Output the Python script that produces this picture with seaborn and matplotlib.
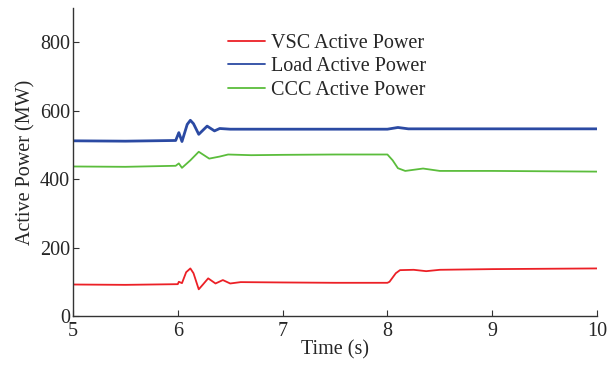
import matplotlib
matplotlib.use("Agg")
import matplotlib.pyplot as plt
import seaborn as sns
import pandas as pd

# Time (s) and active power (MW)
vsc_t = [5.0, 5.5, 6.0, 6.01, 6.04, 6.08, 6.12, 6.15, 6.20, 6.24, 6.29, 6.36, 6.43, 6.50, 6.6, 7.0, 7.5, 8.0, 8.02, 8.08, 8.12, 8.25, 8.37, 8.5, 9.0, 9.5, 10.0]
vsc_p = [92, 91, 93, 100, 96, 128, 139, 125, 78, 92, 110, 95, 105, 95, 99, 98, 97, 97, 100, 125, 134, 135, 131, 135, 137, 138, 139]

load_t = [5.0, 5.5, 5.98, 6.01, 6.04, 6.09, 6.12, 6.15, 6.20, 6.28, 6.35, 6.40, 6.5, 7.0, 7.5, 8.0, 8.1, 8.2, 9.0, 9.5, 10.0]
load_p = [512, 511, 513, 536, 510, 560, 572, 562, 531, 555, 541, 548, 546, 546, 546, 546, 551, 547, 547, 547, 547]

ccc_t = [5.0, 5.5, 5.98, 6.01, 6.04, 6.12, 6.20, 6.30, 6.40, 6.48, 6.7, 7.0, 7.5, 8.0, 8.05, 8.10, 8.17, 8.34, 8.5, 9.0, 9.5, 10.0]
ccc_p = [437, 436, 439, 446, 433, 455, 480, 460, 466, 472, 470, 471, 472, 472, 455, 432, 424, 431, 424, 424, 423, 422]

series_names = ["VSC Active Power", "Load Active Power", "CCC Active Power"]
x_ticks = [5, 6, 7, 8, 9, 10]
y_ticks = [0, 200, 400, 600, 800]

frames = []
for name, t, p in zip(series_names, [vsc_t, load_t, ccc_t], [vsc_p, load_p, ccc_p]):
    frames.append(pd.DataFrame({"Time": t, "Power": p, "Series": name}))
df = pd.concat(frames, ignore_index=True)

sns.set_style("ticks")
plt.rcParams["font.family"] = ["Liberation Serif", "DejaVu Serif"]

fig = plt.figure(figsize=(6.08, 3.67), dpi=100)
ax = fig.add_axes([0.120, 0.139, 0.862, 0.839])

palette = {"VSC Active Power": "#ec2026",
           "Load Active Power": "#2b4aa3",
           "CCC Active Power": "#5bbd3c"}
sns.lineplot(data=df, x="Time", y="Power", hue="Series", palette=palette,
             estimator=None, sort=False, ax=ax, linewidth=1.3, legend=True)
for line in ax.get_lines():
    if line.get_color() == "#2b4aa3":
        line.set_linewidth(2.0)

fs = 14.5
ax.set_xlim(5, 10)
ax.set_ylim(0, 900)
ax.set_xticks(x_ticks)
ax.set_yticks(y_ticks)
ax.set_xlabel("Time (s)", fontsize=fs, labelpad=0)
ax.set_ylabel("Active Power (MW)", fontsize=fs, labelpad=3)
ax.tick_params(direction="in", length=4, labelsize=fs, width=0.8, color="#333333")
ax.tick_params(axis="x", pad=4)
ax.tick_params(axis="y", pad=2)
for s in ["top", "right"]:
    ax.spines[s].set_visible(False)
for s in ["left", "bottom"]:
    ax.spines[s].set_linewidth(1.0)
    ax.spines[s].set_color("#333333")

handles, labels = ax.get_legend_handles_labels()
leg = ax.legend(handles, labels, loc="upper left", bbox_to_anchor=(0.296, 0.917),
                frameon=False, fontsize=fs, handlelength=1.85, handletextpad=0.3,
                labelspacing=0.23, borderaxespad=0, borderpad=0)
for h in leg.get_lines():
    h.set_linewidth(1.3)

fig.savefig("out.png", dpi=100)
